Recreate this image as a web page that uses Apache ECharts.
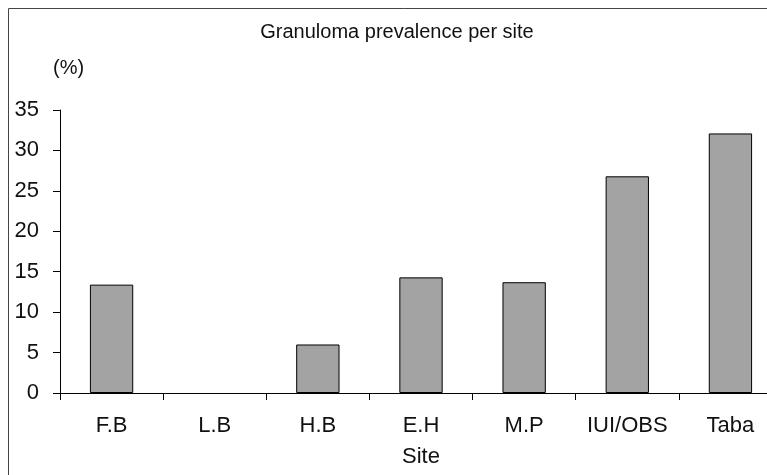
<!DOCTYPE html>
<html>
<head>
<meta charset="utf-8">
<script src="https://cdn.jsdelivr.net/npm/echarts@6/dist/echarts.min.js"></script>
<style>
  html, body { margin: 0; padding: 0; background: #fff; overflow: hidden; }
  /* the original plot runs past the right edge, so the canvas is a bit wider than the window */
  #chart { width: 800px; height: 475px; }
</style>
</head>
<body>
<div id="chart"></div>
<script>
// granuloma prevalence per site
var sites = ['F.B', 'L.B', 'H.B', 'E.H', 'M.P', 'IUI/OBS', 'Taba'];
var prevalence = [13.4, 0, 6.0, 14.3, 13.7, 26.8, 32.1];
var yTicks = { min: 0, max: 35, interval: 5 };

var chart = echarts.init(document.getElementById('chart'));
var font = 'Liberation Sans, Arial, sans-serif';

// zero bars draw no outline in the original
var barData = prevalence.map(function (v) {
  return v === 0 ? { value: v, itemStyle: { borderWidth: 0 } } : v;
});

chart.setOption({
  animation: false,
  backgroundColor: '#fff',
  title: [{
    text: 'Granuloma prevalence per site',
    left: 392,
    textAlign: 'center',
    top: 17,
    textStyle: { fontFamily: font, fontSize: 20, fontWeight: 'normal', color: '#111' }
  }, {
    text: '(%)',
    left: 48,
    top: 53,
    textStyle: { fontFamily: font, fontSize: 20, fontWeight: 'normal', color: '#111' }
  }],
  graphic: [{
    type: 'rect',
    shape: { x: 8.5, y: 8.5, width: 900, height: 600 },
    style: { fill: 'none', stroke: '#444', lineWidth: 1 },
    silent: true
  }],
  grid: { left: 60, top: 110, bottom: 82, width: 722 },
  xAxis: {
    type: 'category',
    data: sites,
    name: 'Site',
    nameLocation: 'middle',
    nameGap: 53,
    nameTextStyle: { fontFamily: font, fontSize: 22, color: '#111' },
    axisLine: { lineStyle: { color: '#000', width: 1 } },
    axisTick: { show: true, length: 7, lineStyle: { color: '#000' } },
    axisLabel: { fontFamily: font, fontSize: 22, color: '#111', margin: 22, interval: 0 }
  },
  yAxis: {
    type: 'value',
    min: yTicks.min,
    max: yTicks.max,
    interval: yTicks.interval,
    axisLine: { show: true, lineStyle: { color: '#000', width: 1 } },
    axisTick: { show: true, length: 7, lineStyle: { color: '#000' } },
    splitLine: { show: false },
    axisLabel: { fontFamily: font, fontSize: 22, color: '#111', margin: 21 }
  },
  series: [{
    type: 'bar',
    data: barData,
    barWidth: '42%',
    itemStyle: { color: '#a3a3a3', borderColor: '#000', borderWidth: 1 }
  }]
});
</script>
</body>
</html>
